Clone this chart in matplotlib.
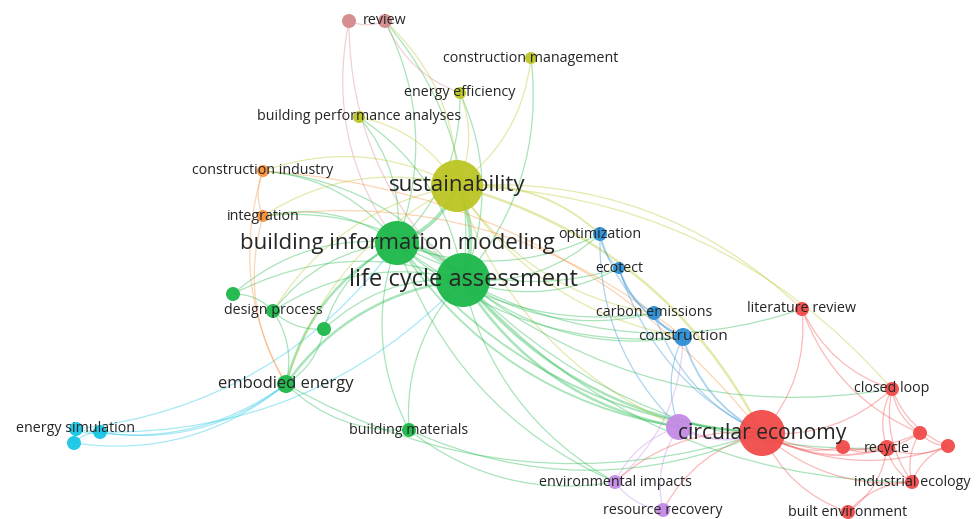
import matplotlib as mpl
mpl.use("Agg")
import matplotlib.pyplot as plt
import numpy as np
from matplotlib.path import Path
from matplotlib.patches import PathPatch

# keyword nodes (x, y in map units, y grows downwards)
node_ids = ["rev0", "rev", "cm", "ee", "bpa", "sus", "ci", "integ", "bim", "lca",
            "opt", "eco", "cem", "con", "lr", "cl", "circ", "pur", "r1", "rec",
            "r2", "r3", "ie", "be", "ei", "rr", "dp", "g1", "g2", "emb", "bm",
            "es1", "es2", "es3"]
node_x = [349, 385, 531, 460, 359, 457, 263, 263, 397, 463,
          600, 619, 654, 683, 802, 892, 762, 679, 843, 887,
          920, 948, 912, 848, 615, 663, 273, 233, 324, 286, 409,
          76, 100, 74]
node_y = [21, 21, 58, 93, 117, 186, 171, 216, 243, 280,
          234, 268, 313, 337, 309, 389, 433, 427, 447, 448,
          433, 446, 482, 512, 482, 510, 311, 294, 329, 384, 430,
          429, 432, 443]
node_r = [7, 7, 6, 6, 6, 26, 6, 6, 22, 27,
          7, 6, 7, 9, 7, 7, 23, 13, 7, 8,
          7, 7, 7, 7, 7, 7, 7, 7, 7, 9, 7,
          7, 7, 7]
node_cluster = ["pink", "pink", "yellow", "yellow", "yellow", "yellow", "orange", "orange", "green", "green",
                "blue", "blue", "blue", "blue", "red", "red", "red", "purple", "red", "red",
                "red", "red", "red", "red", "purple", "purple", "green", "green", "green", "green", "green",
                "cyan", "cyan", "cyan"]

labels = {
    "rev": "review", "cm": "construction management", "ee": "energy efficiency",
    "bpa": "building performance analyses", "sus": "sustainability",
    "ci": "construction industry", "integ": "integration",
    "bim": "building information modeling", "lca": "life cycle assessment",
    "opt": "optimization", "eco": "ecotect", "cem": "carbon emissions",
    "con": "construction", "lr": "literature review", "cl": "closed loop",
    "circ": "circular economy", "rec": "recycle", "ie": "industrial ecology",
    "be": "built environment", "ei": "environmental impacts",
    "rr": "resource recovery", "dp": "design process", "emb": "embodied energy",
    "bm": "building materials", "es1": "energy simulation",
}
label_size = {"sus": 16, "bim": 16, "lca": 17, "circ": 15.2, "emb": 12, "con": 11}

CLUSTER_COLOR = {
    "red": "#f24a4a", "green": "#1db84a", "yellow": "#bcc523", "blue": "#2b8fd4",
    "purple": "#c48ae6", "orange": "#f7923a", "pink": "#d48a8a", "cyan": "#17c6e6",
}

# co-occurrence links (a, b, strength, bend side)
edges = [
    ("lca", "bim", 3, 1), ("lca", "sus", 3, 1), ("bim", "sus", 3, 1), ("lca", "circ", 2, 1),
    ("bim", "circ", 1.5, 1), ("sus", "circ", 2, -1), ("lca", "pur", 2, 1), ("bim", "pur", 1.5, 1),
    ("sus", "pur", 1, 1),
    ("lca", "dp", 1, 1), ("lca", "g1", 1, 1), ("lca", "g2", 1, 1), ("lca", "emb", 2, 1), ("lca", "bm", 1, 1),
    ("es2", "lca", 1, 1), ("lca", "ci", 1, 1), ("lca", "integ", 1, 1), ("lca", "rev", 1, 1),
    ("rev0", "lca", 1, 1),
    ("lca", "bpa", 1, 1), ("lca", "ee", 1, 1), ("lca", "opt", 1, 1), ("lca", "eco", 1, 1), ("lca", "cem", 1, 1),
    ("lca", "con", 1, 1), ("lca", "lr", 1, 1), ("lca", "cl", 1, 1), ("lca", "ei", 1, 1), ("lca", "rec", 1, 1),
    ("lca", "ie", 1, 1), ("lca", "cm", 1, 1),
    ("bim", "dp", 1, 1), ("bim", "g1", 1, 1), ("bim", "g2", 1, 1), ("bim", "emb", 2, 1), ("bim", "bm", 1, 1),
    ("es1", "bim", 1, 1), ("bim", "ci", 1, 1), ("bim", "integ", 1, 1), ("bim", "rev", 1, 1),
    ("rev0", "bim", 1, 1),
    ("bim", "bpa", 1, 1), ("bim", "ee", 1, 1), ("bim", "opt", 1, 1), ("bim", "eco", 1, 1), ("bim", "cem", 1, 1),
    ("bim", "con", 1, 1), ("bim", "ei", 1, 1),
    ("sus", "cm", 1, 1), ("sus", "ee", 1, 1), ("sus", "bpa", 1, 1), ("sus", "rev", 1, 1), ("sus", "ci", 1, 1),
    ("sus", "integ", 1, 1), ("sus", "opt", 1.5, -1), ("sus", "lr", 1, -1), ("sus", "cl", 1, -1),
    ("sus", "emb", 1, 1), ("sus", "dp", 1, 1), ("sus", "cem", 1, 1), ("sus", "con", 1, 1),
    ("rev0", "rev", 1, 1), ("rev", "ee", 1, 1),
    ("ci", "integ", 1, 1), ("ci", "emb", 1, 1), ("integ", "emb", 1, 1), ("ci", "circ", 1, -1),
    ("integ", "con", 1, -1),
    ("es1", "emb", 1, 1), ("es2", "emb", 1, 1), ("es3", "emb", 1, 1), ("es1", "es2", 1, 1),
    ("es2", "es3", 1, 1), ("es1", "es3", 1, 1), ("emb", "dp", 1, 1), ("emb", "g2", 1, 1),
    ("emb", "bm", 1, 1), ("emb", "circ", 1, 1),
    ("dp", "g1", 1, 1), ("dp", "g2", 1, 1),
    ("opt", "eco", 1, 1), ("opt", "con", 1, 1), ("eco", "con", 1, 1), ("eco", "cem", 1, 1), ("cem", "con", 1, 1),
    ("cem", "circ", 1, 1), ("con", "circ", 1.5, 1), ("con", "pur", 1, 1), ("opt", "pur", 1, 1),
    ("eco", "circ", 1, 1),
    ("pur", "circ", 2, 1), ("pur", "ei", 1, 1), ("pur", "rr", 1, 1), ("ei", "rr", 1, 1), ("circ", "ei", 1, 1),
    ("circ", "rr", 1, 1),
    ("circ", "lr", 1, 1), ("circ", "cl", 1, 1), ("circ", "r1", 1, 1), ("circ", "rec", 1.5, 1),
    ("circ", "r2", 1, 1), ("circ", "r3", 1, 1), ("circ", "ie", 1, 1), ("circ", "be", 1, 1),
    ("lr", "cl", 1, 1), ("lr", "r2", 1, 1), ("cl", "r2", 1, 1), ("cl", "rec", 1, 1), ("cl", "ie", 1, 1),
    ("cl", "r3", 1, 1), ("r2", "r3", 1, 1), ("r2", "ie", 1, 1), ("rec", "ie", 1, 1), ("r1", "r2", 1, 1),
    ("r1", "rec", 1, 1), ("rec", "r3", 1, 1), ("ie", "be", 1, 1), ("r3", "ie", 1, 1), ("be", "rec", 1, 1),
    ("bm", "circ", 1, 1), ("bm", "ei", 1, 1), ("ei", "con", 1, 1),
]

idx = {n: i for i, n in enumerate(node_ids)}

fig = plt.figure(figsize=(9.79, 5.19), dpi=100)
ax = fig.add_axes([0, 0, 1, 1])
ax.set_xlim(0, 979)
ax.set_ylim(519, 0)
ax.set_aspect("equal")
ax.axis("off")

for a, b, w, side in edges:
    ia, ib = idx[a], idx[b]
    p0 = np.array([node_x[ia], node_y[ia]], float)
    p1 = np.array([node_x[ib], node_y[ib]], float)
    d = p1 - p0
    perp = np.array([-d[1], d[0]])
    ctrl = (p0 + p1) / 2 + 0.22 * side * perp
    path = Path([p0, ctrl, p1], [Path.MOVETO, Path.CURVE3, Path.CURVE3])
    # colour taken from the non-hub end where possible
    col = CLUSTER_COLOR[node_cluster[ia]]
    ax.add_patch(PathPatch(path, fc="none", ec=col, lw=0.9 * w, alpha=0.38, zorder=1))

sizes = [(2 * r * 0.72) ** 2 for r in node_r]
cols = [CLUSTER_COLOR[c] for c in node_cluster]
ax.scatter(node_x, node_y, s=sizes, c=cols, linewidths=0, alpha=0.95, zorder=2)

for n, txt in labels.items():
    i = idx[n]
    ax.text(node_x[i], node_y[i], txt, ha="center", va="center",
            fontsize=label_size.get(n, 10.3), family="Open Sans", color="#262626", zorder=3)

fig.savefig("out.png", dpi=100, facecolor="white")
